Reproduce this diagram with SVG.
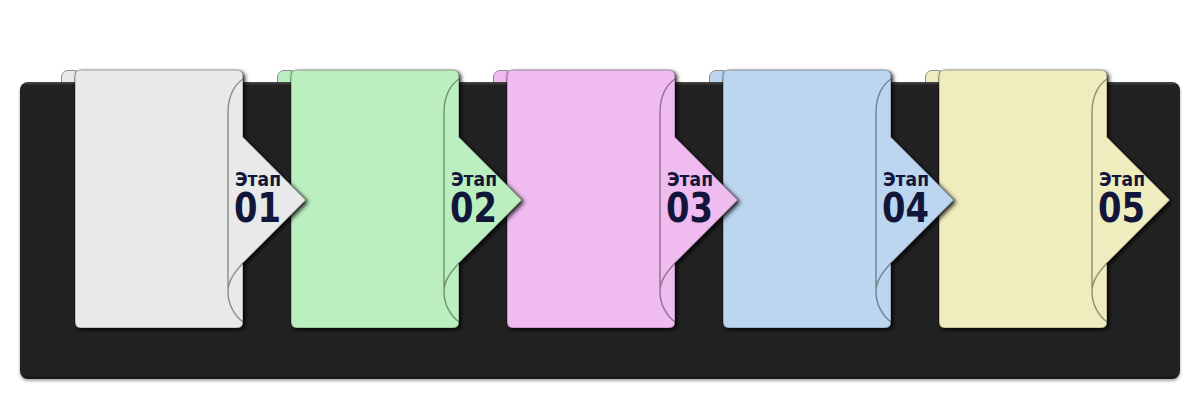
<svg xmlns="http://www.w3.org/2000/svg" xmlns:xlink="http://www.w3.org/1999/xlink" width="1200" height="400" viewBox="0 0 1200 400">
<defs>
<style>
.sheet{stroke:rgba(0,0,0,0.32);stroke-width:1.2;filter:url(#sh)}
.fold{fill:none;stroke:rgba(0,0,0,0.38);stroke-width:1.5;filter:url(#bl)}
.curl{stroke:#8e8e8e;stroke-width:1}
.lbl{font-family:"DejaVu Sans Condensed","DejaVu Sans","Liberation Sans",sans-serif;font-weight:bold;fill:#12163a}
.s{font-size:19px}
.n{font-size:40px}
</style>
<linearGradient id="bgg" x1="0" y1="0" x2="0" y2="1">
<stop offset="0" stop-color="#4a4a4a"/>
<stop offset="0.012" stop-color="#222"/>
<stop offset="0.985" stop-color="#222"/>
<stop offset="1" stop-color="#151515"/>
</linearGradient>
<filter id="sh" x="-10%" y="-10%" width="130%" height="130%">
<feDropShadow dx="2" dy="2" stdDeviation="2" flood-color="#000" flood-opacity="0.85"/>
</filter>
<filter id="bgsh" x="-5%" y="-5%" width="110%" height="115%">
<feDropShadow dx="0" dy="2" stdDeviation="1.5" flood-color="#000" flood-opacity="0.35"/>
</filter>
<filter id="bl" x="-20%" y="-5%" width="140%" height="110%">
<feGaussianBlur stdDeviation="0.6"/>
</filter>
<path id="sheet" d="M81,70 H237 Q243,70 243,76 V137 L306,200 L243,263 V322 Q243,328 237,328 H81 Q75,328 75,322 V76 Q75,70 81,70 Z"/>
<path id="foldp" d="M243,79 C234,85 228,97 228,112 V288 M243,263 C235,272 228,280 228,292 C228,305 235,316 243,322"/>
<path id="curlp" d="M76,70.5 H68 A6.5,6.5 0 0 0 61.5,77 V92 H76 Z"/>
</defs>

<g id="curls">
<use xlink:href="#curlp" class="curl" fill="#e9e9e9"/>
<use xlink:href="#curlp" class="curl" fill="#bbefc0" transform="translate(216,0)"/>
<use xlink:href="#curlp" class="curl" fill="#f0bbef" transform="translate(432,0)"/>
<use xlink:href="#curlp" class="curl" fill="#bcd6ef" transform="translate(648,0)"/>
<use xlink:href="#curlp" class="curl" fill="#efecbd" transform="translate(864,0)"/>
</g>

<rect id="panel" x="20" y="82" width="1160" height="297" rx="8" fill="url(#bgg)" filter="url(#bgsh)"/>

<g id="connectors"/>

<g id="stage5" transform="translate(864,0)">
<use xlink:href="#sheet" class="sheet" fill="#efecbd"/>
<use xlink:href="#foldp" class="fold"/>
<text class="lbl"><tspan class="s" x="235" y="186" textLength="46" lengthAdjust="spacingAndGlyphs">Этап</tspan><tspan class="n" x="234" y="222" textLength="47" lengthAdjust="spacingAndGlyphs">05</tspan></text>
</g>
<g id="stage4" transform="translate(648,0)">
<use xlink:href="#sheet" class="sheet" fill="#bcd6ef"/>
<use xlink:href="#foldp" class="fold"/>
<text class="lbl"><tspan class="s" x="235" y="186" textLength="46" lengthAdjust="spacingAndGlyphs">Этап</tspan><tspan class="n" x="234" y="222" textLength="47" lengthAdjust="spacingAndGlyphs">04</tspan></text>
</g>
<g id="stage3" transform="translate(432,0)">
<use xlink:href="#sheet" class="sheet" fill="#f0bbef"/>
<use xlink:href="#foldp" class="fold"/>
<text class="lbl"><tspan class="s" x="235" y="186" textLength="46" lengthAdjust="spacingAndGlyphs">Этап</tspan><tspan class="n" x="234" y="222" textLength="47" lengthAdjust="spacingAndGlyphs">03</tspan></text>
</g>
<g id="stage2" transform="translate(216,0)">
<use xlink:href="#sheet" class="sheet" fill="#bbefc0"/>
<use xlink:href="#foldp" class="fold"/>
<text class="lbl"><tspan class="s" x="235" y="186" textLength="46" lengthAdjust="spacingAndGlyphs">Этап</tspan><tspan class="n" x="234" y="222" textLength="47" lengthAdjust="spacingAndGlyphs">02</tspan></text>
</g>
<g id="stage1">
<use xlink:href="#sheet" class="sheet" fill="#e9e9e9"/>
<use xlink:href="#foldp" class="fold"/>
<text class="lbl"><tspan class="s" x="235" y="186" textLength="46" lengthAdjust="spacingAndGlyphs">Этап</tspan><tspan class="n" x="234" y="222" textLength="47" lengthAdjust="spacingAndGlyphs">01</tspan></text>
</g>
</svg>
